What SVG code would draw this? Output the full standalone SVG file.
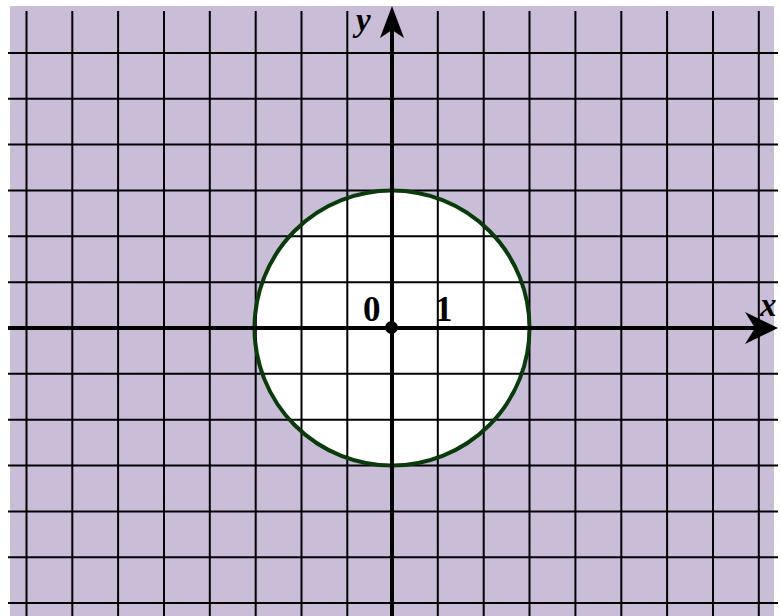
<svg xmlns="http://www.w3.org/2000/svg" width="781" height="616" viewBox="0 0 781 616">
<style>
.grid line{stroke:#000;stroke-width:2}
.axis{stroke:#000;stroke-width:4}
.lbl{font-family:"Liberation Serif",serif;font-weight:bold;font-size:35px;fill:#000}
.var{font-family:"Liberation Serif",serif;font-weight:bold;font-style:italic;font-size:33px;fill:#000}
</style>
<defs>
<clipPath id="cc"><circle cx="392" cy="328" r="136"/></clipPath>
</defs>
<rect x="10" y="6" width="764" height="610" fill="#cabdd8"/>
<g id="grid" class="grid">
<line x1="26.5" y1="11" x2="26.5" y2="616"/>
<line x1="72.3" y1="11" x2="72.3" y2="616"/>
<line x1="118.1" y1="11" x2="118.1" y2="616"/>
<line x1="164" y1="11" x2="164" y2="616"/>
<line x1="209.8" y1="11" x2="209.8" y2="616"/>
<line x1="255.7" y1="11" x2="255.7" y2="616"/>
<line x1="301.5" y1="11" x2="301.5" y2="616"/>
<line x1="347.3" y1="11" x2="347.3" y2="616"/>
<line x1="437.8" y1="11" x2="437.8" y2="616"/>
<line x1="483.7" y1="11" x2="483.7" y2="616"/>
<line x1="529.5" y1="11" x2="529.5" y2="616"/>
<line x1="575.4" y1="11" x2="575.4" y2="616"/>
<line x1="621.3" y1="11" x2="621.3" y2="616"/>
<line x1="667.1" y1="11" x2="667.1" y2="616"/>
<line x1="713" y1="11" x2="713" y2="616"/>
<line x1="758.8" y1="11" x2="758.8" y2="616"/>
<line x1="8" y1="52.9" x2="778" y2="52.9"/>
<line x1="8" y1="98.8" x2="778" y2="98.8"/>
<line x1="8" y1="144.6" x2="778" y2="144.6"/>
<line x1="8" y1="190.5" x2="778" y2="190.5"/>
<line x1="8" y1="236.3" x2="778" y2="236.3"/>
<line x1="8" y1="282.2" x2="778" y2="282.2"/>
<line x1="8" y1="373.8" x2="778" y2="373.8"/>
<line x1="8" y1="419.7" x2="778" y2="419.7"/>
<line x1="8" y1="465.5" x2="778" y2="465.5"/>
<line x1="8" y1="511.4" x2="778" y2="511.4"/>
<line x1="8" y1="557.2" x2="778" y2="557.2"/>
<line x1="8" y1="603.1" x2="778" y2="603.1"/>
</g>
<g id="circle">
<circle cx="392" cy="328" r="137.5" fill="#fff" stroke="#0b3a0b" stroke-width="4"/>
</g>
<g id="inner-grid" class="grid" clip-path="url(#cc)">
<line x1="255.7" y1="11" x2="255.7" y2="616"/>
<line x1="301.5" y1="11" x2="301.5" y2="616"/>
<line x1="347.3" y1="11" x2="347.3" y2="616"/>
<line x1="437.8" y1="11" x2="437.8" y2="616"/>
<line x1="483.7" y1="11" x2="483.7" y2="616"/>
<line x1="529.5" y1="11" x2="529.5" y2="616"/>
<line x1="8" y1="190.5" x2="778" y2="190.5"/>
<line x1="8" y1="236.3" x2="778" y2="236.3"/>
<line x1="8" y1="282.2" x2="778" y2="282.2"/>
<line x1="8" y1="373.8" x2="778" y2="373.8"/>
<line x1="8" y1="419.7" x2="778" y2="419.7"/>
<line x1="8" y1="465.5" x2="778" y2="465.5"/>
</g>
<g id="axes">
<line class="axis" x1="8" y1="328" x2="760" y2="328"/>
<path d="M778,328 L745,312 L755,328 L745,344 Z" fill="#000"/>
<line class="axis" x1="392" y1="616" x2="392" y2="25"/>
<path d="M392,6 L380,38 L392,30 L404,38 Z" fill="#000"/>
</g>
<g id="origin"><circle cx="391.5" cy="327.5" r="6.5" fill="#000"/></g>
<g id="labels">
<text class="var" x="356" y="31">y</text>
<text class="var" x="760" y="316">x</text>
<text class="lbl" x="363" y="321">0</text>
<text class="lbl" x="435" y="321">1</text>
</g>
</svg>
